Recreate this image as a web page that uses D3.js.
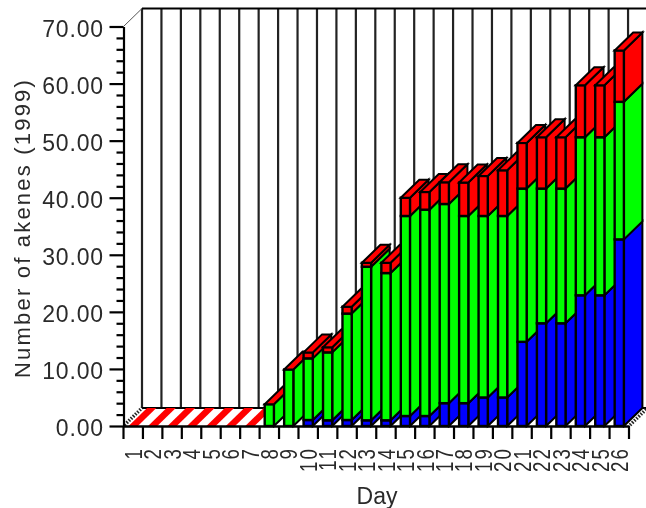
<!DOCTYPE html>
<html><head><meta charset="utf-8">
<script src="https://cdn.jsdelivr.net/npm/d3@7/dist/d3.min.js"></script>
<style>
html,body{margin:0;padding:0;background:#fff;overflow:hidden}
svg{display:block;filter:blur(0.35px)}
text{font-family:"Liberation Sans",Arial,sans-serif;fill:#2a2a2a}
</style></head><body>
<svg id="c" width="646" height="508"></svg>
<script>
const days = d3.range(1,27).map(String);
const blue  = [0,0,0,0,0,0,0,0,0,1.05,1,1.05,1,1,1.75,1.75,4,4,5,5,14.75,18,18,22.9,22.9,32.7];
const greenTop = [0,0,0,0,0,0,0,3.8,9.9,11.85,12.9,19.7,27.9,26.8,36.8,37.9,38.9,36.8,36.8,36.8,41.6,41.6,41.6,50.6,50.6,56.8];
const total = [0,0,0,0,0,0,0,3.8,9.9,12.9,13.8,20.9,28.6,28.6,40,41,42.7,42.65,43.8,44.8,49.6,50.6,50.6,59.7,59.7,65.8];
const colors = ["#0000ff","#00ff00","#ff0000"];
const yTicks = d3.range(0,71,2);

const svg = d3.select("#c");
const dx = 18.5, dy = -18;
const y = d3.scaleLinear().domain([0,70]).range([426,26.5]);
const xCat = d3.scaleBand().domain(days).range([123.5,629]);
const xBar = d3.scaleBand().domain(days).range([123.5,629]).paddingInner(0.525).paddingOuter(0.2625).align(0.5);
const step = xCat.step();

// back wall
const wall = svg.append("g");
const wallX = d3.range(0,27).map(i=>xCat.range()[0]+i*step+dx);
wall.selectAll("line.v").data(wallX).join("line").attr("class","v")
  .attr("x1",d=>d).attr("x2",d=>d).attr("y1",y(70)+dy).attr("y2",y(0)+dy)
  .attr("stroke","#222").attr("stroke-width",2.2);
wall.append("line").attr("x1",wallX[0]).attr("x2",647).attr("y1",y(70)+dy).attr("y2",y(70)+dy).attr("stroke","#000").attr("stroke-width",2.2);
wall.append("line").attr("x1",wallX[0]).attr("x2",647).attr("y1",y(0)+dy).attr("y2",y(0)+dy).attr("stroke","#000").attr("stroke-width",2.2);
wall.append("line").attr("x1",xCat.range()[0]).attr("x2",wallX[0]).attr("y1",y(70)).attr("y2",y(70)+dy).attr("stroke","#555").attr("stroke-width",1);

// floor edges
[xCat.range()[0], xCat.range()[1]].forEach(x0=>{
  svg.append("line").attr("x1",x0+1).attr("y1",y(0)-1).attr("x2",x0+dx).attr("y2",y(0)+dy)
    .attr("stroke","#222").attr("stroke-width",3.5).attr("stroke-dasharray","1.5 1.5");
});

// bars
const bars = svg.append("g").attr("stroke-linejoin","miter");
days.forEach((d,i)=>{
  const x0 = xBar(d), w = xBar.bandwidth();
  const levels = [0,blue[i],greenTop[i],total[i]];
  const g = bars.append("g");
  const empty = total[i]===0;
  const stroke = empty ? "none" : "#000";
  for(let s=0;s<3;s++){
    const a=levels[s], b=levels[s+1];
    if(b<=a) continue;
    g.append("polygon")
      .attr("points",[[x0+w,y(a)],[x0+w+dx,y(a)+dy],[x0+w+dx,y(b)+dy],[x0+w,y(b)]].join(" "))
      .attr("fill",colors[s]).attr("stroke",stroke).attr("stroke-width",2);
    g.append("rect").attr("x",x0).attr("y",y(b)).attr("width",w).attr("height",y(a)-y(b))
      .attr("fill",colors[s]).attr("stroke",stroke).attr("stroke-width",2.4);
  }
  const t = levels[3];
  g.append("polygon")
    .attr("points",[[x0,y(t)],[x0+dx,y(t)+dy],[x0+w+dx,y(t)+dy],[x0+w,y(t)]].join(" "))
    .attr("fill",colors[2]).attr("stroke",stroke).attr("stroke-width",2);
});

// y axis
const yAxis = d3.axisLeft(y).tickValues(yTicks).tickSizeOuter(0)
  .tickFormat(d=>d%10===0?d3.format(".2f")(d):"");
const gy = svg.append("g").attr("transform","translate(123.5,0)").call(yAxis);
gy.select(".domain").attr("stroke","#000").attr("stroke-width",2.2);
gy.selectAll(".tick line").attr("stroke","#000").attr("stroke-width",2.2)
  .attr("x2",d=>d%10===0?-14:-7);
gy.selectAll(".tick text").attr("x",-19.5).attr("dy","0.42em")
  .style("font-size","23px").style("letter-spacing","0.85px");

// x axis
const xAxis = d3.axisBottom(xCat).tickSize(0).tickPadding(0);
const gx = svg.append("g").attr("transform","translate(0,426)").call(xAxis);
gx.select(".domain").attr("stroke","#000").attr("stroke-width",2.4);
gx.selectAll(".tick text")
  .attr("transform","translate(0,21) rotate(-90) scale(0.85,1.1)")
  .attr("text-anchor","end").attr("x",0).attr("y",0).attr("dy","0.36em")
  .style("font-size","22px").style("letter-spacing","2.5px");
gx.selectAll("line.b").data(d3.range(0,27)).join("line").attr("class","b")
  .attr("x1",i=>xCat.range()[0]+i*step).attr("x2",i=>xCat.range()[0]+i*step)
  .attr("y1",0).attr("y2",13).attr("stroke","#000").attr("stroke-width",2.2);

// titles
svg.append("text").attr("transform","translate(30,228) rotate(-90)").attr("text-anchor","middle")
  .style("font-size","22px").style("letter-spacing","2.2px").text("Number of akenes (1999)");
svg.append("text").attr("x",377).attr("y",504).attr("text-anchor","middle")
  .style("font-size","23px").text("Day");
</script>
</body></html>
